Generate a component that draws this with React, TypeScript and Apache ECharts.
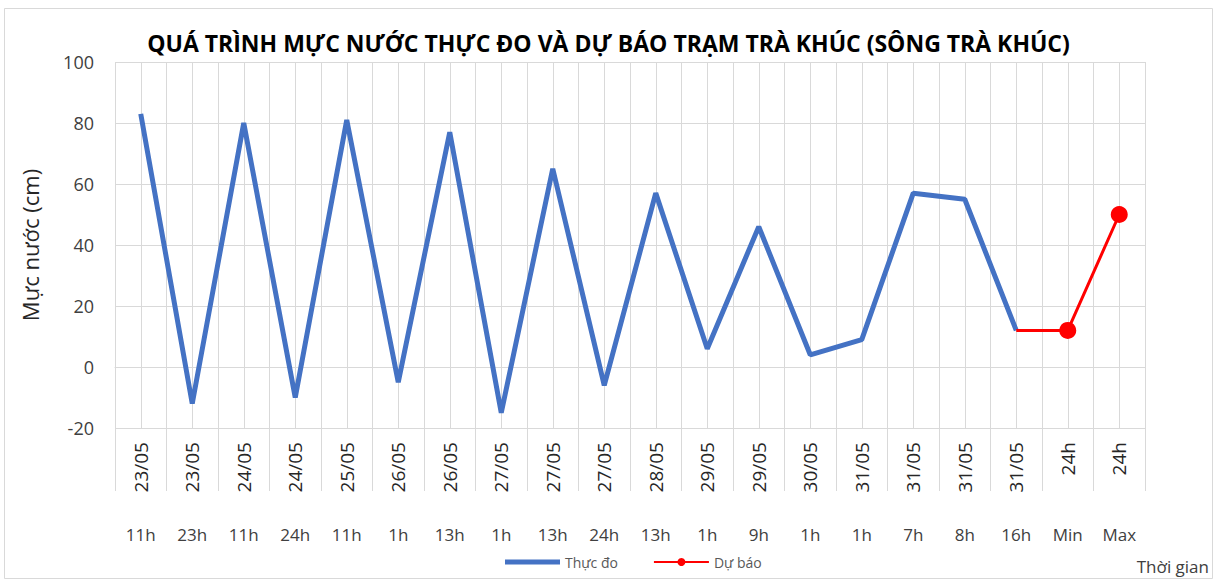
import React, { useEffect, useRef } from "react";
import * as echarts from "echarts";

const dates = ["23/05","23/05","24/05","24/05","25/05","26/05","26/05","27/05","27/05","27/05","28/05","29/05","29/05","30/05","31/05","31/05","31/05","31/05","24h","24h"];
const hours = ["11h","23h","11h","24h","11h","1h","13h","1h","13h","24h","13h","1h","9h","1h","1h","7h","8h","16h","Min","Max"];
const observed: (number | null)[] = [83,-12,80,-10,81,-5,77,-15,65,-6,57,6,46,4,9,57,55,12,null,null];
const forecast: (number | null)[] = [null,null,null,null,null,null,null,null,null,null,null,null,null,null,null,null,null,12,12,50];
const yTicks = { min: -20, max: 100, interval: 20 };

export default function App() {
  const ref = useRef<HTMLDivElement>(null);
  useEffect(() => {
    document.body.style.margin = "0";
    const chart = echarts.init(ref.current!, null, { renderer: "svg" });
    const font = "Open Sans";
    const grey = "#d9d9d9";
    chart.setOption({
      animation: false,
      backgroundColor: "#fff",
      textStyle: { fontFamily: font },
      title: {
        text: "QUÁ TRÌNH MỰC NƯỚC THỰC ĐO VÀ DỰ BÁO TRẠM TRÀ KHÚC (SÔNG TRÀ KHÚC)",
        left: "center",
        top: 26,
        textStyle: { fontFamily: font, fontSize: 23, fontWeight: "bold", color: "#000" },
      },
      legend: {
        bottom: 8,
        left: 500,
        itemWidth: 55,
        itemHeight: 10,
        itemGap: 35,
        textStyle: { fontFamily: font, fontSize: 14, color: "#595959" },
        data: [
          { name: "Thực đo", icon: "path://M0,0 L55,0 L55,5 L0,5 Z" },
          { name: "Dự báo" },
        ],
      },
      grid: { left: 115, right: 72, top: 62, bottom: 154, outerBoundsMode: "none", containLabel: false },
      xAxis: [
        {
          type: "category",
          data: dates,
          boundaryGap: true,
          axisLine: { show: true, lineStyle: { color: grey } },
          axisTick: { show: true, length: 124, lineStyle: { color: grey } },
          axisLabel: { rotate: 90, margin: 14, fontSize: 19, color: "#262626", interval: 0 },
          splitLine: { show: false },
        },
        {
          type: "category",
          data: hours,
          position: "bottom",
          boundaryGap: true,
          axisLine: { show: false },
          axisTick: { show: false },
          axisLabel: { margin: 98, fontSize: 17, color: "#404040", interval: 0 },
        },
        {
          type: "value",
          min: 0,
          max: 40,
          interval: 1,
          position: "top",
          axisLine: { show: false },
          axisTick: { show: false },
          axisLabel: { show: false },
          splitLine: { show: true, lineStyle: { color: grey } },
        },
      ],
      yAxis: {
        type: "value",
        min: yTicks.min,
        max: yTicks.max,
        interval: yTicks.interval,
        axisLine: { show: false },
        axisTick: { show: false },
        axisLabel: { fontSize: 18, color: "#404040", margin: 21 },
        splitLine: { lineStyle: { color: grey } },
        name: "Mực nước (cm)",
        nameLocation: "middle",
        nameGap: 74,
        nameTextStyle: { fontSize: 22, color: "#262626" },
      },
      series: [
        {
          name: "Thực đo",
          type: "line",
          xAxisIndex: 0,
          data: observed,
          symbol: "none",
          lineStyle: { color: "#4472C4", width: 5 },
          itemStyle: { color: "#4472C4" },
        },
        {
          name: "Dự báo",
          type: "line",
          xAxisIndex: 0,
          data: forecast.map((v, i) => (i === 17 ? { value: v, symbol: "none" } : v)),
          symbol: "circle",
          symbolSize: 17,
          lineStyle: { color: "#FF0000", width: 3 },
          itemStyle: { color: "#FF0000" },
        },
      ],
      graphic: [
        {
          type: "rect",
          shape: { x: 4.5, y: 8.5, width: 1208, height: 570 },
          style: { fill: "none", stroke: "#d9d9d9", lineWidth: 1 },
          silent: true,
        },
        {
          type: "text",
          x: 1209,
          y: 566,
          style: {
            text: "Thời gian",
            fontFamily: font,
            fontSize: 17,
            fill: "#404040",
            align: "right",
            verticalAlign: "middle",
          },
          silent: true,
        },
      ],
    });
    return () => chart.dispose();
  }, []);
  return <div ref={ref} style={{ width: 1217, height: 582 }} />;
}
